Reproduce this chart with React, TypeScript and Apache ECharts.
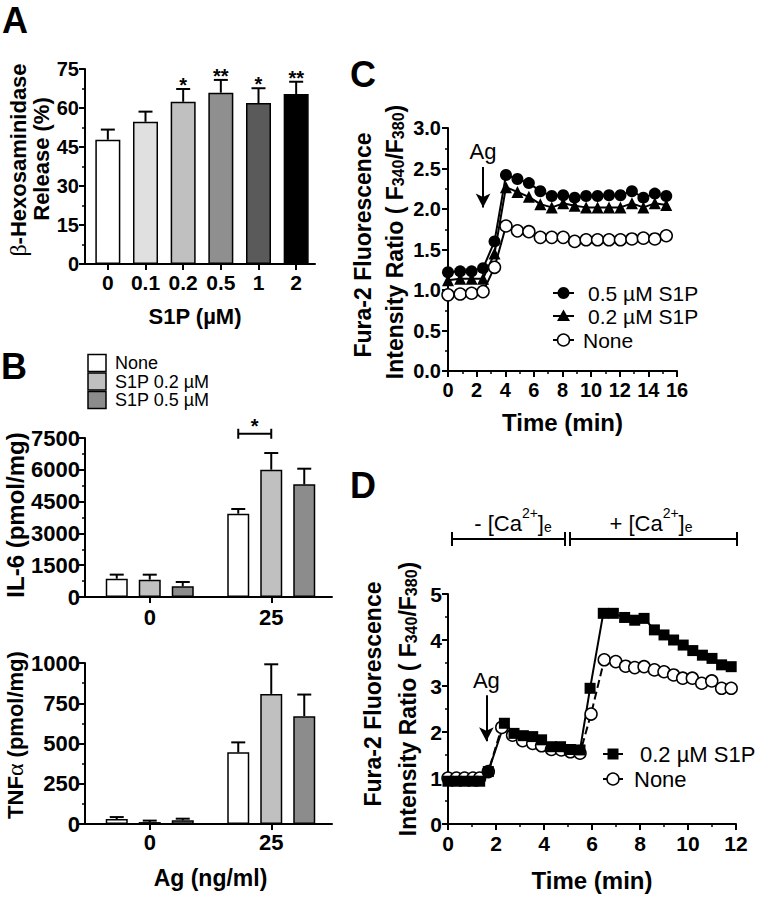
import React, { useEffect, useRef } from 'react';
import * as echarts from 'echarts';

const F = '"Liberation Sans", Arial, Helvetica, sans-serif';
const SERIF = '"Liberation Serif", "DejaVu Serif", serif';

// ---------- Panel A ----------
const aCategories = ['0', '0.1', '0.2', '0.5', '1', '2'];
const aMeans = [47.8, 54.7, 62.4, 65.9, 61.9, 65.4];
const aErrors = [3.9, 3.9, 4.9, 4.9, 5.7, 4.7];
const aSignificance = ['', '', '*', '**', '*', '**'];
const aColors = ['#ffffff', '#e0e0e0', '#c0c0c0', '#8f8f8f', '#5a5a5a', '#000000'];

// ---------- Panel B ----------
const bCategories = ['0', '25'];
const bSeriesNames = ['None', 'S1P 0.2 µM', 'S1P 0.5 µM'];
const bColors = ['#ffffff', '#c0c0c0', '#8c8c8c'];
const il6None = [865, 3930];
const il6NoneErr = [190, 220];
const il6S02 = [817, 6005];
const il6S02Err = [236, 786];
const il6S05 = [503, 5313];
const il6S05Err = [204, 739];
const il6SigLevel = 7700;
const tnfNone = [31, 445];
const tnfNoneErr = [12, 62];
const tnfS02 = [12, 808];
const tnfS02Err = [9, 184];
const tnfS05 = [23, 670];
const tnfS05Err = [10, 134];

// ---------- Panel C ----------
const cSeriesNames = ['0.5 µM S1P', '0.2 µM S1P', 'None'];
const cTime = [0, 0.85, 1.65, 2.45, 3.25, 4.05, 4.85, 5.65, 6.45, 7.25, 8.05, 8.85, 9.65, 10.45, 11.25, 12.05, 12.85, 13.65, 14.45, 15.25];
const c05 = [1.22, 1.23, 1.23, 1.27, 1.6, 2.42, 2.37, 2.32, 2.22, 2.16, 2.17, 2.14, 2.16, 2.16, 2.17, 2.17, 2.22, 2.14, 2.19, 2.16];
const c02 = [1.12, 1.14, 1.14, 1.14, 1.45, 2.27, 2.21, 2.15, 2.06, 2.02, 2.07, 2.04, 2.02, 2.02, 2.02, 2.02, 2.07, 2.02, 2.07, 2.05];
const cNone = [0.94, 0.95, 0.96, 0.98, 1.28, 1.79, 1.73, 1.72, 1.65, 1.65, 1.65, 1.6, 1.62, 1.62, 1.62, 1.62, 1.63, 1.64, 1.63, 1.67];
const cAgTime = 2.45;
const cAgFrom = 2.52;
const cAgTo = 2.02;

// ---------- Panel D ----------
const dSeriesNames = ['0.2 µM S1P', 'None'];
const dTimeS1P = [0, 0.35, 0.69, 1.04, 1.32, 1.68, 2.35, 2.75, 3.14, 3.53, 3.9, 4.31, 4.69, 5.1, 5.5, 5.92, 6.47, 6.89, 7.36, 7.78, 8.17, 8.6, 9.0, 9.4, 9.8, 10.2, 10.6, 11.0, 11.4, 11.8];
const dS1P = [0.93, 0.93, 0.93, 0.93, 0.93, 1.14, 2.19, 1.97, 1.92, 1.9, 1.83, 1.68, 1.68, 1.62, 1.61, 2.95, 4.58, 4.58, 4.49, 4.43, 4.47, 4.22, 4.11, 4.0, 3.89, 3.77, 3.67, 3.6, 3.46, 3.42];
const dTimeNone = [0, 0.35, 0.69, 1.04, 1.32, 1.68, 2.24, 2.69, 3.11, 3.53, 3.9, 4.31, 4.72, 5.1, 5.5, 5.96, 6.51, 6.99, 7.4, 7.78, 8.17, 8.6, 9.0, 9.4, 9.78, 10.18, 10.57, 10.99, 11.4, 11.8];
const dNone = [1.0, 1.0, 1.0, 1.0, 1.0, 1.14, 2.1, 1.93, 1.81, 1.75, 1.7, 1.62, 1.61, 1.57, 1.54, 2.39, 3.57, 3.53, 3.43, 3.4, 3.42, 3.35, 3.31, 3.24, 3.17, 3.17, 3.06, 3.11, 2.95, 2.95];
const dAgTime = 1.6;
const dAgFrom = 2.8;
const dAgTo = 1.8;

// ---------- helpers ----------
const black = '#000';
const plain = (v: number) => String(v);

function valueAxis(gridIndex: number, min: number, max: number, interval: number, fontSize: number, margin: number, extra: any = {}) {
  return {
    type: 'value',
    gridIndex,
    min,
    max,
    interval,
    axisLine: { show: true, onZero: false, lineStyle: { color: black, width: 2 } },
    axisTick: { show: true, length: 6, lineStyle: { color: black, width: 2 } },
    minorTick: { show: true, splitNumber: 2, length: 3, lineStyle: { color: black, width: 1.5 } },
    splitLine: { show: false },
    minorSplitLine: { show: false },
    axisLabel: { color: black, fontSize, fontWeight: 'bold', fontFamily: F, margin, formatter: plain },
    ...extra,
  };
}

function categoryAxis(gridIndex: number, data: string[], fontSize: number, margin: number, extra: any = {}) {
  return {
    type: 'category',
    gridIndex,
    data,
    axisLine: { show: true, onZero: false, lineStyle: { color: black, width: 2 } },
    axisTick: { show: true, alignWithLabel: true, length: 6, lineStyle: { color: black, width: 2 } },
    splitLine: { show: false },
    axisLabel: { color: black, fontSize, fontWeight: 'bold', fontFamily: F, margin, interval: 0 },
    ...extra,
  };
}

function errorSeries(axisIndex: number, means: number[], errs: number[], offset: number, sig?: string[]) {
  return {
    type: 'custom',
    xAxisIndex: axisIndex,
    yAxisIndex: axisIndex,
    z: 5,
    silent: true,
    data: means.map((m, i) => [i, m, errs[i]]),
    renderItem: (params: any, api: any) => {
      const i = api.value(0);
      const m = api.value(1);
      const e = api.value(2);
      const p0 = api.coord([i, m]);
      const p1 = api.coord([i, m + e]);
      const x = p0[0] + offset;
      const children: any[] = [
        { type: 'line', shape: { x1: x, y1: p0[1], x2: x, y2: p1[1] }, style: { stroke: black, lineWidth: 2 } },
        { type: 'line', shape: { x1: x - 7, y1: p1[1], x2: x + 7, y2: p1[1] }, style: { stroke: black, lineWidth: 2 } },
      ];
      const s = sig ? sig[params.dataIndex] : '';
      if (s) {
        children.push({
          type: 'text',
          x,
          y: p1[1] - 4,
          style: { text: s, fontSize: 20, fontWeight: 'bold', fontFamily: F, fill: black, align: 'center', verticalAlign: 'middle' },
        });
      }
      return { type: 'group', children };
    },
  };
}

function barSeries(axisIndex: number, name: string, values: number[], color: string, width: number) {
  return {
    type: 'bar',
    name,
    xAxisIndex: axisIndex,
    yAxisIndex: axisIndex,
    barWidth: width,
    barGap: '50%',
    data: values,
    itemStyle: { color, borderColor: black, borderWidth: 1.5 },
    emphasis: { disabled: true },
  };
}

function pairs(xs: number[], ys: number[]) {
  return xs.map((x, i) => [x, ys[i]]);
}

function arrowMarkLine(x: number, from: number, to: number) {
  return {
    silent: true,
    symbol: ['none', 'arrow'],
    symbolSize: [11, 14],
    lineStyle: { color: black, width: 2, type: 'solid' },
    label: { show: true, position: 'start', formatter: 'Ag', color: black, fontSize: 22, fontFamily: F, fontWeight: 'normal', distance: 4 },
    emphasis: { disabled: true },
    data: [[{ coord: [x, from] }, { coord: [x, to] }]],
  };
}

const txt = (x: number, y: number, text: string, fontSize: number, bold: boolean, extra: any = {}) => ({
  type: 'text',
  x,
  y,
  silent: true,
  style: {
    text,
    fontSize,
    fontWeight: bold ? 'bold' : 'normal',
    fontFamily: F,
    fill: black,
    align: 'center',
    verticalAlign: 'middle',
    ...(extra.style || {}),
  },
  ...(extra.el || {}),
});

const vText = (x: number, y: number, text: string, fontSize: number, rich?: any) => ({
  type: 'text',
  x,
  y,
  rotation: Math.PI / 2,
  silent: true,
  style: {
    text,
    fontSize,
    fontWeight: 'bold',
    fontFamily: F,
    fill: black,
    align: 'center',
    verticalAlign: 'middle',
    rich,
  },
});

const hLine = (x1: number, y1: number, x2: number, y2: number, w = 2) => ({
  type: 'line',
  silent: true,
  shape: { x1, y1, x2, y2 },
  style: { stroke: black, lineWidth: w },
});

const subRich = {
  m: { fontSize: 23, fontWeight: 'bold', fontFamily: F, fill: black, lineHeight: 28, verticalAlign: 'bottom' },
  s: { fontSize: 16, fontWeight: 'bold', fontFamily: F, fill: black, lineHeight: 10, verticalAlign: 'bottom' },
};

const caRich = {
  m: { fontSize: 22, fontFamily: F, fill: black, lineHeight: 28, verticalAlign: 'bottom' },
  u: { fontSize: 14, fontFamily: F, fill: black, lineHeight: 12, verticalAlign: 'top' },
  d: { fontSize: 14, fontFamily: F, fill: black, lineHeight: 10, verticalAlign: 'bottom' },
};

function buildOption(): any {
  const grids = [
    { left: 89, top: 69, width: 226, height: 195 }, // A
    { left: 89, top: 438, width: 243, height: 159 }, // IL-6
    { left: 89, top: 663, width: 243, height: 161 }, // TNF
    { left: 448, top: 128, width: 229, height: 243 }, // C
    { left: 448, top: 594, width: 288, height: 230 }, // D
  ];

  const xAxes = [
    categoryAxis(0, aCategories, 21, 8, {
      name: 'S1P (µM)',
      nameLocation: 'middle',
      nameGap: 41,
      nameTextStyle: { color: black, fontSize: 22, fontWeight: 'bold', fontFamily: F, padding: [0, 14, 0, 0] },
    }),
    categoryAxis(1, bCategories, 22, 9),
    categoryAxis(2, bCategories, 22, 7, {
      name: 'Ag (ng/ml)',
      nameLocation: 'middle',
      nameGap: 42,
      nameTextStyle: { color: black, fontSize: 23, fontWeight: 'bold', fontFamily: F },
    }),
    valueAxis(3, 0, 16, 2, 20, 9, {
      name: 'Time (min)',
      nameLocation: 'middle',
      nameGap: 39,
      nameTextStyle: { color: black, fontSize: 24, fontWeight: 'bold', fontFamily: F },
    }),
    valueAxis(4, 0, 12, 2, 21, 9, {
      name: 'Time (min)',
      nameLocation: 'middle',
      nameGap: 44,
      nameTextStyle: { color: black, fontSize: 24, fontWeight: 'bold', fontFamily: F },
    }),
  ];

  const yAxes = [
    valueAxis(0, 0, 75, 15, 20, 6, { offset: 4 }),
    valueAxis(1, 0, 7500, 1500, 22, 5, { offset: 4 }),
    valueAxis(2, 0, 1000, 250, 22, 5, { offset: 4 }),
    valueAxis(3, 0, 3, 0.5, 20, 7, { axisLabel: { color: black, fontSize: 20, fontWeight: 'bold', fontFamily: F, margin: 7, formatter: (v: number) => v.toFixed(1) } }),
    valueAxis(4, 0, 5, 1, 21, 6),
  ];

  const series: any[] = [
    // A
    {
      type: 'bar',
      name: 'β-Hexosaminidase release',
      xAxisIndex: 0,
      yAxisIndex: 0,
      barWidth: 25,
      data: aMeans.map((v, i) => ({ value: v, itemStyle: { color: aColors[i] } })),
      itemStyle: { borderColor: black, borderWidth: 1.5 },
      emphasis: { disabled: true },
    },
    errorSeries(0, aMeans, aErrors, 0, aSignificance),
    // B IL-6
    barSeries(1, bSeriesNames[0], il6None, bColors[0], 22),
    barSeries(1, bSeriesNames[1], il6S02, bColors[1], 22),
    barSeries(1, bSeriesNames[2], il6S05, bColors[2], 22),
    errorSeries(1, il6None, il6NoneErr, -33),
    errorSeries(1, il6S02, il6S02Err, 0),
    errorSeries(1, il6S05, il6S05Err, 33),
    {
      type: 'custom',
      xAxisIndex: 1,
      yAxisIndex: 1,
      z: 5,
      silent: true,
      data: [[1, il6SigLevel]],
      renderItem: (params: any, api: any) => {
        const p = api.coord([api.value(0), api.value(1)]);
        const x1 = p[0] - 33;
        const x2 = p[0];
        const y = p[1];
        return {
          type: 'group',
          children: [
            { type: 'line', shape: { x1, y1: y, x2, y2: y }, style: { stroke: black, lineWidth: 2 } },
            { type: 'line', shape: { x1, y1: y - 5, x2: x1, y2: y + 5 }, style: { stroke: black, lineWidth: 2 } },
            { type: 'line', shape: { x1: x2, y1: y - 5, x2, y2: y + 5 }, style: { stroke: black, lineWidth: 2 } },
            {
              type: 'text',
              x: (x1 + x2) / 2,
              y: y - 8,
              style: { text: '*', fontSize: 20, fontWeight: 'bold', fontFamily: F, fill: black, align: 'center', verticalAlign: 'middle' },
            },
          ],
        };
      },
    },
    // B TNF
    barSeries(2, bSeriesNames[0], tnfNone, bColors[0], 22),
    barSeries(2, bSeriesNames[1], tnfS02, bColors[1], 22),
    barSeries(2, bSeriesNames[2], tnfS05, bColors[2], 22),
    errorSeries(2, tnfNone, tnfNoneErr, -33),
    errorSeries(2, tnfS02, tnfS02Err, 0),
    errorSeries(2, tnfS05, tnfS05Err, 33),
    // C
    {
      type: 'line',
      name: cSeriesNames[2],
      xAxisIndex: 3,
      yAxisIndex: 3,
      data: pairs(cTime, cNone),
      symbol: 'circle',
      symbolSize: 12,
      itemStyle: { color: '#fff', borderColor: black, borderWidth: 1.5 },
      lineStyle: { color: black, width: 2 },
      emphasis: { disabled: true },
    },
    {
      type: 'line',
      name: cSeriesNames[1],
      xAxisIndex: 3,
      yAxisIndex: 3,
      data: pairs(cTime, c02),
      symbol: 'triangle',
      symbolSize: 12,
      itemStyle: { color: black },
      lineStyle: { color: black, width: 2 },
      emphasis: { disabled: true },
    },
    {
      type: 'line',
      name: cSeriesNames[0],
      xAxisIndex: 3,
      yAxisIndex: 3,
      data: pairs(cTime, c05),
      symbol: 'circle',
      symbolSize: 12,
      itemStyle: { color: black },
      lineStyle: { color: black, width: 2 },
      emphasis: { disabled: true },
      markLine: arrowMarkLine(cAgTime, cAgFrom, cAgTo),
    },
    // D
    {
      type: 'line',
      name: dSeriesNames[1],
      xAxisIndex: 4,
      yAxisIndex: 4,
      data: pairs(dTimeNone, dNone),
      symbol: 'circle',
      symbolSize: 12,
      itemStyle: { color: '#fff', borderColor: black, borderWidth: 1.5 },
      lineStyle: { color: black, width: 2, type: 'dashed' },
      emphasis: { disabled: true },
    },
    {
      type: 'line',
      name: dSeriesNames[0],
      xAxisIndex: 4,
      yAxisIndex: 4,
      data: pairs(dTimeS1P, dS1P),
      symbol: 'rect',
      symbolSize: 11,
      itemStyle: { color: black },
      lineStyle: { color: black, width: 2 },
      emphasis: { disabled: true },
      markLine: arrowMarkLine(dAgTime, dAgFrom, dAgTo),
    },
  ];

  const graphic: any[] = [
    // panel letters
    txt(15, 20, 'A', 36, true),
    txt(14, 366, 'B', 36, true),
    txt(363, 74, 'C', 36, true),
    txt(363, 485, 'D', 36, true),
    // corner joins (y axes offset by 4px)
    hLine(84, 264, 90, 264),
    hLine(84, 597, 90, 597),
    hLine(84, 824, 90, 824),
    // y axis names
    vText(18, 160, '{g|β}-Hexosaminidase', 22, { g: { fontFamily: SERIF, fontWeight: 'normal', fontSize: 24, fill: black } }),
    vText(41, 159, 'Release (%)', 22),
    vText(15, 515, 'IL-6 (pmol/mg)', 24),
    vText(15, 735, 'TNF{g|α} (pmol/mg)', 22, { g: { fontFamily: SERIF, fontWeight: 'normal', fontSize: 24, fill: black } }),
    vText(363, 245, 'Fura-2 Fluorescence', 23),
    vText(392, 242, '{m|Intensity Ratio ( F}{s|340}{m|/F}{s|380}{m|)}', 23, subRich),
    vText(373, 694, 'Fura-2 Fluorescence', 23),
    vText(405, 699, '{m|Intensity Ratio ( F}{s|340}{m|/F}{s|380}{m|)}', 23, subRich),
    // D calcium annotations
    txt(513, 520, '{m|- [Ca}{u|2+}{m|]}{d|e}', 22, false, { style: { rich: caRich } }),
    txt(651, 520, '{m|+ [Ca}{u|2+}{m|]}{d|e}', 22, false, { style: { rich: caRich } }),
    hLine(452, 539, 565, 539),
    hLine(452, 532, 452, 546),
    hLine(565, 532, 565, 546),
    hLine(570, 539, 737, 539),
    hLine(570, 532, 570, 546),
    hLine(737, 532, 737, 546),
  ];

  // B legend
  bSeriesNames.forEach((name, i) => {
    const y = 363 + i * 18.5;
    graphic.push({
      type: 'rect',
      silent: true,
      shape: { x: 88, y: y - 8.5, width: 18, height: 17 },
      style: { fill: bColors[i], stroke: black, lineWidth: 1.5 },
    });
    graphic.push(txt(115, y, name, 18, false, { style: { align: 'left', lineHeight: 18 } }));
  });

  // C legend
  const cLegendY = [293, 316, 340];
  cSeriesNames.forEach((name, i) => {
    const y = cLegendY[i];
    graphic.push(hLine(553, y, 574, y));
    if (i === 0) {
      graphic.push({ type: 'circle', silent: true, shape: { cx: 563.5, cy: y, r: 6 }, style: { fill: black } });
    } else if (i === 1) {
      graphic.push({ type: 'polygon', silent: true, shape: { points: [[563.5, y - 6.5], [557, y + 5], [570, y + 5]] }, style: { fill: black } });
    } else {
      graphic.push({ type: 'circle', silent: true, shape: { cx: 563.5, cy: y, r: 6 }, style: { fill: '#fff', stroke: black, lineWidth: 1.5 } });
    }
    graphic.push(txt(i === 2 ? 583 : 588, y, name, 21, false, { style: { align: 'left' } }));
  });

  // D legend
  const dLegendY = [754, 779];
  dSeriesNames.forEach((name, i) => {
    const y = dLegendY[i];
    graphic.push(hLine(603, y, 623, y));
    if (i === 0) {
      graphic.push({ type: 'rect', silent: true, shape: { x: 607.5, y: y - 5.5, width: 11, height: 11 }, style: { fill: black } });
    } else {
      graphic.push({ type: 'circle', silent: true, shape: { cx: 613, cy: y, r: 6 }, style: { fill: '#fff', stroke: black, lineWidth: 1.5 } });
    }
    graphic.push(txt(i === 0 ? 640 : 634, y, name, 22, false, { style: { align: 'left' } }));
  });

  return {
    animation: false,
    backgroundColor: '#fff',
    textStyle: { fontFamily: F },
    grid: grids,
    xAxis: xAxes,
    yAxis: yAxes,
    series,
    graphic,
  };
}

export default function App() {
  const ref = useRef<HTMLDivElement>(null);
  useEffect(() => {
    if (!ref.current) return;
    const chart = echarts.init(ref.current, undefined, { renderer: 'svg' });
    chart.setOption(buildOption());
    return () => chart.dispose();
  }, []);
  return (
    <div
      ref={ref}
      style={{ position: 'absolute', left: 0, top: 0, width: 760, height: 897, background: '#fff' }}
    />
  );
}
